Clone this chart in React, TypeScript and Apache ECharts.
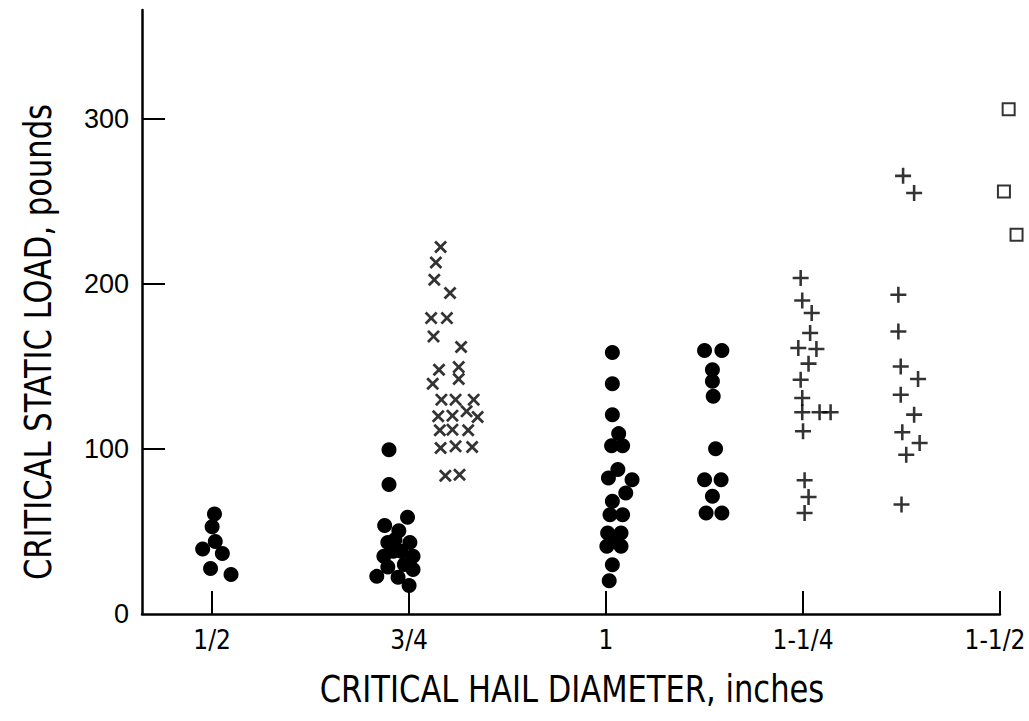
import React, { useEffect, useRef } from "react";
import * as echarts from "echarts";

// Critical hail diameter (inches) vs critical static load (pounds)
const xTickValues = [0.5, 0.75, 1, 1.25, 1.5];
const xTickLabels = ["1/2", "3/4", "1", "1-1/4", "1-1/2"];
const yTickValues = [0, 100, 200, 300];

// filled circles
const dotsHalf = [
  [0.503, 60.6], [0.5, 52.8], [0.504, 44], [0.488, 39.4], [0.513, 36.6], [0.498, 27.5], [0.524, 24],
];
const dotsThreeQuarter = [
  [0.7245, 99.6], [0.7245, 78.4], [0.748, 58.6], [0.719, 53.7], [0.737, 50.5], [0.723, 43.4],
  [0.751, 43.4], [0.73, 38], [0.718, 35], [0.74, 38], [0.755, 35], [0.723, 28.5], [0.755, 26.9],
  [0.709, 22.8], [0.736, 22.2], [0.75, 17.2], [0.732, 45], [0.744, 30],
];
const dotsOne = [
  [1.008, 158.5], [1.008, 139.5], [1.008, 120.8], [1.016, 109.3], [1.007, 102], [1.021, 102],
  [1.015, 87.5], [1.003, 82.4], [1.033, 81.4], [1.025, 73.3], [1.008, 68.3], [1.005, 60.2],
  [1.021, 60.2], [1.002, 49.1], [1.019, 49.1], [1.001, 41], [1.019, 41], [1.01, 45],
  [1.008, 29.9], [1.004, 20.2],
];
const dotsOneEighth = [
  [1.125, 159.7], [1.147, 159.7], [1.135, 148], [1.135, 141], [1.136, 131.9], [1.139, 100.2],
  [1.125, 81.4], [1.146, 81.4], [1.135, 71.3], [1.127, 61.2], [1.147, 61.2],
];
// crosses
const crossesThreeQuarter = [
  [0.79, 222.4], [0.784, 213], [0.782, 202.5], [0.802, 194.5], [0.778, 179.3], [0.798, 179.3],
  [0.781, 168.2], [0.816, 161.8], [0.788, 148], [0.813, 149.6], [0.813, 142.4], [0.78, 139.5],
  [0.791, 129.9], [0.809, 129.9], [0.832, 129.9], [0.787, 119.8], [0.805, 120.2], [0.823, 122.8],
  [0.837, 119.4], [0.789, 111.3], [0.805, 111.7], [0.825, 111.3], [0.79, 100.6], [0.809, 101.6],
  [0.83, 101.2], [0.796, 83.8], [0.814, 84.4],
];
// plus signs
const plusQuarter = [
  [1.247, 203.6], [1.249, 190], [1.261, 182.4], [1.259, 170.3], [1.244, 161.2], [1.267, 160.6],
  [1.257, 151.7], [1.247, 142], [1.249, 130.9], [1.249, 122.2], [1.271, 122.2], [1.285, 122.2],
  [1.25, 110.7], [1.252, 81], [1.257, 70.9], [1.252, 61.2],
];
const plusThreeEighths = [
  [1.377, 265.5], [1.391, 255.1], [1.371, 193.5], [1.371, 171.2], [1.374, 150], [1.396, 142.4],
  [1.374, 132.9], [1.391, 120.8], [1.376, 110.1], [1.398, 103.6], [1.381, 96.5], [1.375, 66.3],
];
// open squares
const squaresHalf = [
  [1.511, 305.9], [1.505, 256], [1.521, 229.8],
];

const condensed = "'DejaVu Sans Condensed', 'DejaVu Sans', sans-serif";
const plain = "'Liberation Sans', Arial, 'DejaVu Sans', sans-serif";

const PLUS = "path://M4.2,0H5.8V4.2H10V5.8H5.8V10H4.2V5.8H0V4.2H4.2Z";
const CROSS =
  "path://M1.5,0L5,3.5L8.5,0L10,1.5L6.5,5L10,8.5L8.5,10L5,6.5L1.5,10L0,8.5L3.5,5L0,1.5Z";

export default function App() {
  const ref = useRef<HTMLDivElement>(null);
  useEffect(() => {
    if (!ref.current) return;
    const chart = echarts.init(ref.current, null, { renderer: "svg" });
    const dotSeries = (data: number[][]) => ({
      type: "scatter",
      data,
      symbol: "circle",
      symbolSize: 15,
      clip: false,
      itemStyle: { color: "#000", opacity: 1 },
    });
    const labelStyle = { color: "#000", fontSize: 26, fontFamily: condensed };
    chart.setOption({
      animation: false,
      backgroundColor: "#fff",
      grid: { left: 142, right: 29, top: 10, bottom: 107, outerBoundsMode: "none", containLabel: false },
      xAxis: {
        type: "value",
        min: 0.411,
        max: 1.5,
        splitLine: { show: false },
        axisLine: { show: true, lineStyle: { color: "#000", width: 2.5 } },
        axisTick: {
          show: true,
          inside: true,
          length: 23,
          customValues: xTickValues,
          lineStyle: { color: "#000", width: 2 },
        },
        axisLabel: {
          customValues: xTickValues,
          formatter: (v: number) => {
            const i = xTickValues.findIndex((t) => Math.abs(t - v) < 1e-6);
            if (i < 0) return "";
            return i === xTickValues.length - 1 ? `{last|${xTickLabels[i]}}` : `{n|${xTickLabels[i]}}`;
          },
          ...labelStyle,
          margin: 13,
          hideOverlap: false,
          rich: {
            n: { ...labelStyle },
            last: { ...labelStyle, padding: [0, 10, 0, 0] },
          },
        },
      },
      yAxis: {
        type: "value",
        min: 0,
        max: 366,
        interval: 100,
        splitLine: { show: false },
        axisLine: { show: true, lineStyle: { color: "#000", width: 2.5 } },
        axisTick: {
          show: true,
          inside: true,
          length: 23,
          customValues: [100, 200, 300],
          lineStyle: { color: "#000", width: 2 },
        },
        axisLabel: {
          customValues: yTickValues,
          color: "#000",
          fontSize: 27,
          fontFamily: plain,
          margin: 13,
        },
      },
      graphic: [
        {
          type: "text",
          x: 38,
          y: 342,
          rotation: Math.PI / 2,
          scaleY: 1.12,
          style: {
            text: "CRITICAL STATIC LOAD, pounds",
            fill: "#000",
            font: `34px ${condensed}`,
            align: "center",
            verticalAlign: "middle",
          },
        },
        {
          type: "text",
          x: 572,
          y: 689,
          scaleY: 1.12,
          style: {
            text: "CRITICAL HAIL DIAMETER, inches",
            fill: "#000",
            font: `34px ${condensed}`,
            align: "center",
            verticalAlign: "middle",
          },
        },
      ],
      series: [
        dotSeries(dotsHalf),
        dotSeries(dotsThreeQuarter),
        dotSeries(dotsOne),
        dotSeries(dotsOneEighth),
        {
          type: "scatter",
          data: crossesThreeQuarter,
          symbol: CROSS,
          symbolSize: 13,
          clip: false,
          itemStyle: { color: "#000" },
        },
        {
          type: "scatter",
          data: plusQuarter,
          symbol: PLUS,
          symbolSize: 16,
          clip: false,
          itemStyle: { color: "#000" },
        },
        {
          type: "scatter",
          data: plusThreeEighths,
          symbol: PLUS,
          symbolSize: 16,
          clip: false,
          itemStyle: { color: "#000" },
        },
        {
          type: "scatter",
          data: squaresHalf,
          symbol: "rect",
          symbolSize: 12,
          clip: false,
          itemStyle: { color: "#fff", borderColor: "#000", borderWidth: 2 },
        },
      ],
    });
    return () => chart.dispose();
  }, []);
  return <div ref={ref} style={{ width: 1029, height: 721, position: "absolute", left: 0, top: 0 }} />;
}
